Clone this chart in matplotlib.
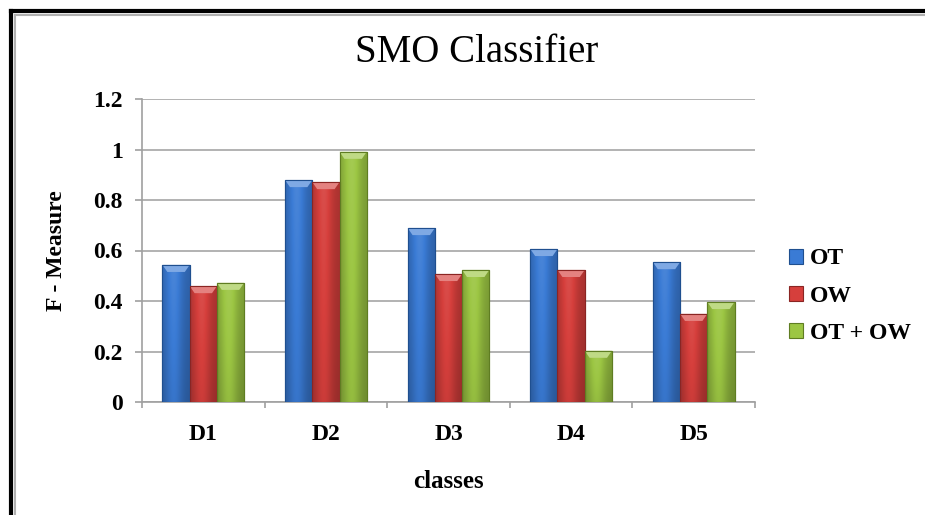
import numpy as np
import matplotlib
matplotlib.use("Agg")
import matplotlib.pyplot as plt
from matplotlib.colors import to_rgb
from matplotlib.patches import Polygon, Rectangle
from matplotlib.lines import Line2D

categories = ["D1", "D2", "D3", "D4", "D5"]
series_names = ["OT", "OW", "OT + OW"]
ot = [0.543, 0.879, 0.689, 0.606, 0.554]
ow = [0.459, 0.871, 0.507, 0.523, 0.349]
ot_ow = [0.472, 0.991, 0.523, 0.203, 0.396]
yticks = [0, 0.2, 0.4, 0.6, 0.8, 1, 1.2]
ytick_labels = ["0", "0.2", "0.4", "0.6", "0.8", "1", "1.2"]

base_colors = ["#3a7bd5", "#d63f3c", "#9cc643"]
edge_colors = ["#1f4f8f", "#8a2523", "#5f7d22"]

serif = ["Liberation Serif", "DejaVu Serif"]

fig = plt.figure(figsize=(9.25, 5.15), dpi=100)
ax = fig.add_axes([142 / 925, 1 - 402 / 515, (755 - 142) / 925, (402 - 99) / 515])

x = np.arange(len(categories)) + 0.5
width = 0.222
offsets = [-width, 0.0, width]


def shaded(rgb, factor):
    rgb = np.array(rgb)
    if factor >= 1:
        return rgb + (1 - rgb) * (factor - 1)
    return rgb * factor


def gradient_image(color):
    rgb = np.array(to_rgb(color))
    nx, ny = 40, 60
    u = np.linspace(0, 1, nx)
    v = np.linspace(0, 1, ny)
    # horizontal profile: dark edges, bright centre-left
    h = 0.80 + 0.28 * np.exp(-((u - 0.42) / 0.32) ** 2)
    # vertical profile: slightly darker towards the base
    vv = 0.88 + 0.12 * v
    img = np.zeros((ny, nx, 3))
    for i in range(ny):
        for j in range(nx):
            img[i, j] = np.clip(shaded(rgb, h[j] * vv[i]), 0, 1)
    return img


for k, (vals, name) in enumerate(zip([ot, ow, ot_ow], series_names)):
    bars = ax.bar(x + offsets[k], vals, width=width, color=base_colors[k],
                  edgecolor=edge_colors[k], linewidth=0.8, label=name, zorder=3)
    img = gradient_image(base_colors[k])
    for b in bars:
        x0, w, hgt = b.get_x(), b.get_width(), b.get_height()
        im = ax.imshow(img, extent=(x0, x0 + w, 0, hgt), origin="lower",
                       aspect="auto", zorder=3.1, interpolation="bilinear")
        im.set_clip_path(b)
        # bevelled cap on the top of each bar
        cap = 0.028
        inset = w * 0.18
        top_poly = Polygon([(x0, hgt), (x0 + w, hgt), (x0 + w - inset, hgt - cap),
                            (x0 + inset, hgt - cap)], closed=True,
                           facecolor=shaded(to_rgb(base_colors[k]), 1.35),
                           edgecolor="none", zorder=3.2)
        ax.add_patch(top_poly)
        ax.add_patch(Rectangle((x0, 0), w, hgt, fill=False,
                               edgecolor=edge_colors[k], linewidth=0.8, zorder=3.3))

ax.set_xlim(0, 5)
ax.set_ylim(0, 1.2)
ax.set_yticks(yticks)
ax.set_yticklabels(ytick_labels, fontfamily=serif, fontweight="bold", fontsize=17)
ax.set_xticks(np.arange(0, 6))
ax.set_xticklabels([])
ax.set_xticks(x, minor=True)
ax.set_xticklabels(categories, minor=True, fontfamily=serif, fontweight="bold", fontsize=17)
ax.tick_params(axis="x", which="minor", length=0, pad=16)
ax.tick_params(axis="x", which="major", length=4.5, color="#a0a0a0", width=1.2)
ax.tick_params(axis="y", length=5, color="#a0a0a0", width=1.2, pad=9)

ax.grid(axis="y", color="#a6a6a6", linewidth=1.2, zorder=0)
ax.set_axisbelow(True)
for s in ["top", "right"]:
    ax.spines[s].set_visible(False)
for s in ["left", "bottom"]:
    ax.spines[s].set_color("#a0a0a0")
    ax.spines[s].set_linewidth(1.2)

fig.text(57 / 925, 1 - 250.5 / 515, "F - Measure", fontfamily=serif, fontweight="bold",
         fontsize=17, rotation=90, ha="center", va="center")
fig.text(448 / 925, 1 - 481 / 515, "classes", fontfamily=serif, fontweight="bold",
         fontsize=18, ha="center", va="center")
fig.text(477 / 925, 1 - 53 / 515, "SMO Classifier", fontfamily=serif, fontsize=28,
         ha="center", va="center")

handles = [Rectangle((0, 0), 1, 1, facecolor=base_colors[k], edgecolor=edge_colors[k],
                     linewidth=0.8) for k in range(3)]
leg = fig.legend(handles, series_names, loc="center left",
                 bbox_to_anchor=(789 / 925, 1 - 296 / 515), frameon=False,
                 prop={"family": serif, "weight": "bold", "size": 17},
                 handlelength=0.6, handleheight=0.6, handletextpad=0.3,
                 labelspacing=0.68, borderpad=0, borderaxespad=0)

# page border along the top and left edges
for lw, col, off in [(3.0, "black", 11), (1.5, "#b0b0b0", 15)]:
    fig.add_artist(Line2D([off / 925, 1.0], [1 - off / 515, 1 - off / 515],
                          transform=fig.transFigure, color=col, linewidth=lw))
    fig.add_artist(Line2D([off / 925, off / 925], [0.0, 1 - off / 515],
                          transform=fig.transFigure, color=col, linewidth=lw))

fig.savefig("out.png", dpi=100)
